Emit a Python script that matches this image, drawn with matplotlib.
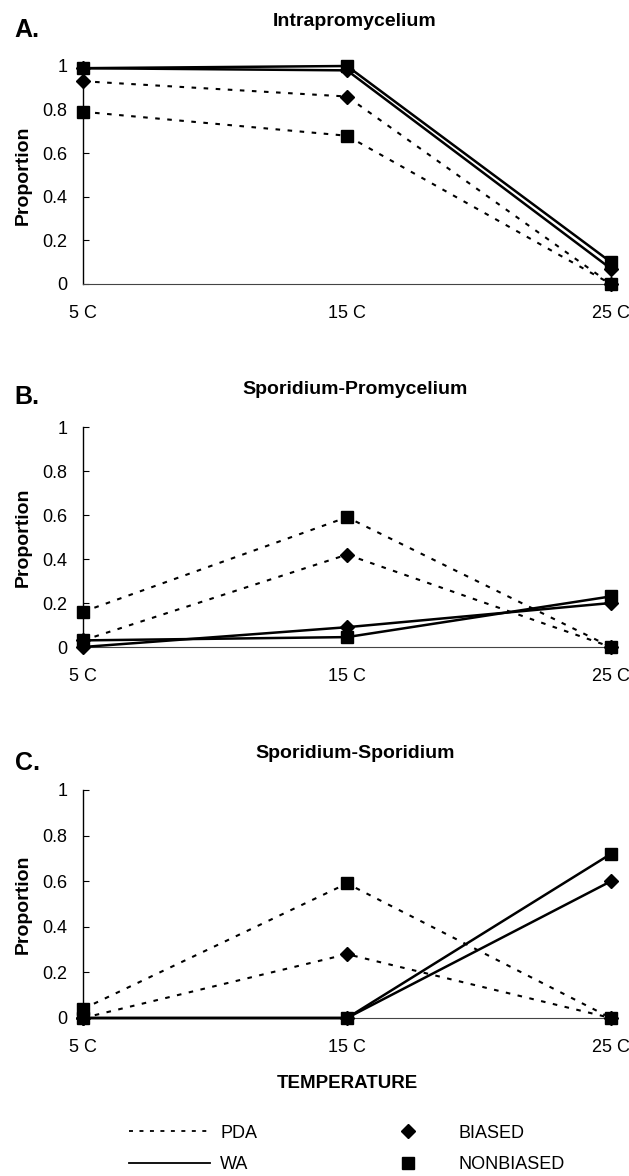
import numpy as np
import matplotlib
matplotlib.use("Agg")
import matplotlib.pyplot as plt
from matplotlib.lines import Line2D

plt.rcParams['font.family'] = ['Liberation Sans', 'DejaVu Sans']

# temperatures on the x axis
temps = ['5 C', '15 C', '25 C']

# A. Intrapromycelium
a_pda_biased = [0.93, 0.86, 0.0]
a_pda_nonbiased = [0.79, 0.68, 0.0]
a_wa_biased = [0.99, 0.98, 0.07]
a_wa_nonbiased = [0.99, 1.0, 0.10]

# B. Sporidium-Promycelium
b_pda_biased = [0.03, 0.42, 0.0]
b_pda_nonbiased = [0.16, 0.59, 0.0]
b_wa_biased = [0.0, 0.09, 0.20]
b_wa_nonbiased = [0.03, 0.045, 0.23]

# C. Sporidium-Sporidium
c_pda_biased = [0.0, 0.28, 0.0]
c_pda_nonbiased = [0.04, 0.59, 0.0]
c_wa_biased = [0.0, 0.0, 0.60]
c_wa_nonbiased = [0.0, 0.0, 0.72]

panels = [
    ('A.', 'Intrapromycelium', a_pda_biased, a_pda_nonbiased, a_wa_biased, a_wa_nonbiased),
    ('B.', 'Sporidium-Promycelium', b_pda_biased, b_pda_nonbiased, b_wa_biased, b_wa_nonbiased),
    ('C.', 'Sporidium-Sporidium', c_pda_biased, c_pda_nonbiased, c_wa_biased, c_wa_nonbiased),
]

W, H = 629, 1176
fig = plt.figure(figsize=(W / 100, H / 100), dpi=100)

# pixel boxes (top, bottom) of each plot area
boxes = [(66, 284), (427, 647), (790, 1018)]
titles_y = [22, 389, 754]
letters_y = [30, 397, 763]
x_left, x_right = 83, 611

dotted = (0, (2.2, 3.6))
x = np.arange(len(temps))

for i, (letter, title, pb, pn, wb, wn) in enumerate(panels):
    top, bot = boxes[i]
    ax = fig.add_axes([x_left / W, 1 - bot / H, (x_right - x_left) / W, (bot - top) / H])
    ax.plot(x, pb, color='black', lw=1.5, ls=dotted, marker='D', ms=7.5, clip_on=False, zorder=3)
    ax.plot(x, pn, color='black', lw=1.5, ls=dotted, marker='s', ms=9, clip_on=False, zorder=3)
    ax.plot(x, wb, color='black', lw=1.8, ls='-', marker='D', ms=7.5, clip_on=False, zorder=4)
    ax.plot(x, wn, color='black', lw=1.8, ls='-', marker='s', ms=9, clip_on=False, zorder=4)

    ax.set_xlim(0, 2)
    ax.set_ylim(0, 1)
    ax.set_yticks(np.arange(0, 1.01, 0.2))
    ax.set_yticklabels(['0', '0.2', '0.4', '0.6', '0.8', '1'])
    ax.set_xticks(x)
    ax.set_xticklabels(temps)
    ax.tick_params(axis='y', direction='in', length=4, width=0.8, labelsize=13, pad=11)
    ax.tick_params(axis='x', length=0, labelsize=13, pad=15)
    ax.spines['top'].set_visible(False)
    ax.spines['right'].set_visible(False)
    ax.spines['left'].set_linewidth(1.0)
    ax.spines['bottom'].set_linewidth(0.8)
    ax.spines['bottom'].set_color('#444444')
    ax.set_ylabel('Proportion', fontsize=14, fontweight='bold')
    ax.yaxis.set_label_coords(-51 / (x_right - x_left), 0.5)

    fig.text(355 / W, 1 - titles_y[i] / H, title, ha='center', va='center',
             fontsize=14, fontweight='bold')
    fig.text(27 / W, 1 - letters_y[i] / H, letter, ha='center', va='center',
             fontsize=18, fontweight='bold')

    if i == 2:
        ax.set_xlabel('TEMPERATURE', fontsize=13.5, fontweight='bold', labelpad=14)

handles = [
    Line2D([], [], color='black', lw=1.3, ls=dotted),
    Line2D([], [], color='black', lw=1.3, ls='-'),
    Line2D([], [], color='black', ls='none', marker='D', ms=7.5),
    Line2D([], [], color='black', ls='none', marker='s', ms=9),
]
labels = ['PDA', 'WA', 'BIASED', 'NONBIASED']
fig.legend(handles, labels, loc='center', bbox_to_anchor=(347 / W, 1 - 1149 / H),
           ncol=2, frameon=False, fontsize=13, handlelength=4.5, handletextpad=0.55,
           columnspacing=6.1, labelspacing=0.8, borderpad=0)

plt.savefig('out.png', dpi=100)
